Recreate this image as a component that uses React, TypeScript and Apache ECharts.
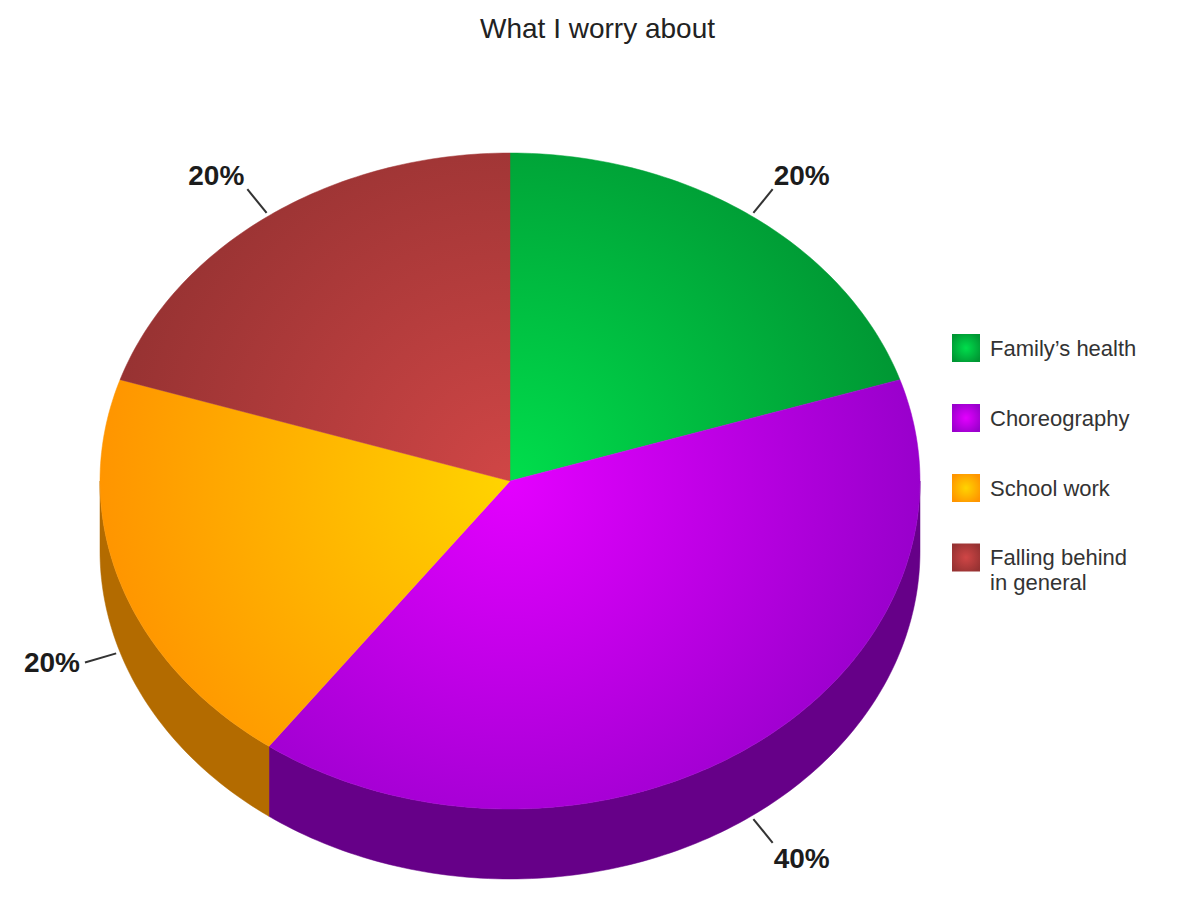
import React, { useEffect, useRef } from "react";
import * as echarts from "echarts";

const chartTitle = "What I worry about";
const categories = ["Family’s health", "Choreography", "School work", "Falling behind\nin general"];
const values = [20, 40, 20, 20];
const centerColors = ["#00DE4C", "#E400FF", "#FFD400", "#D04646"];
const edgeColors = ["#009633", "#9900CC", "#FF9500", "#963232"];
const sideColors = ["#006622", "#660088", "#B36B00", "#732626"];

const CX = 510;
const CY = 481;
const RX = 410;
const RY = 328;
const DEPTH = 70;
const RAD = Math.PI / 180;
const total = values.reduce((a, b) => a + b, 0);

function arc(from: number, to: number, rx: number, ry: number, dy = 0): number[][] {
  const pts: number[][] = [];
  const n = Math.max(2, Math.ceil(Math.abs(to - from)));
  for (let k = 0; k <= n; k++) {
    const a = (from + ((to - from) * k) / n) * RAD;
    pts.push([rx * Math.sin(a), -ry * Math.cos(a) + dy]);
  }
  return pts;
}

function renderSlice(i: number) {
  const before = values.slice(0, i).reduce((a, b) => a + b, 0);
  const start = (before / total) * 360;
  const end = ((before + values[i]) / total) * 360;
  const mid = (start + end) / 2;
  const children: any[] = [];

  const sideFrom = Math.max(start, 90);
  const sideTo = Math.min(end, 270);
  if (sideTo > sideFrom) {
    const upper = arc(sideFrom, sideTo, RX, RY);
    const lower = arc(sideTo, sideFrom, RX, RY, DEPTH);
    children.push({
      type: "polygon",
      x: CX,
      y: CY,
      shape: { points: upper.concat(lower) },
      style: { fill: sideColors[i], stroke: sideColors[i], lineWidth: 0.5 },
    });
  }

  const gradient = new echarts.graphic.RadialGradient(
    0,
    0,
    RX,
    [
      { offset: 0, color: centerColors[i] },
      { offset: 1, color: edgeColors[i] },
    ],
    true
  );
  children.push({
    type: "polygon",
    x: CX,
    y: CY,
    shape: { points: [[0, 0] as number[]].concat(arc(start, end, RX, RY)) },
    style: { fill: gradient, stroke: gradient, lineWidth: 0.5 },
  });

  const s = Math.sin(mid * RAD);
  const c = Math.cos(mid * RAD);
  const front = mid > 90 && mid < 270 ? DEPTH : 0;
  const x1 = CX + RX * 1.01 * s;
  const y1 = CY - RY * 1.01 * c + front;
  const x2 = CX + RX * 1.09 * s;
  const y2 = CY - RY * 1.1 * c + front;
  children.push({
    type: "line",
    shape: { x1, y1, x2, y2 },
    style: { stroke: "#333333", lineWidth: 2 },
  });

  const sideways = Math.abs(s) > 0.9;
  children.push({
    type: "text",
    x: sideways ? x2 - 5 : x2 + (s > 0 ? 1 : -3),
    y: sideways ? y2 : y2 + (c > 0 ? -14 : 16),
    style: {
      text: `${Math.round((values[i] / total) * 100)}%`,
      font: 'bold 28px "Liberation Sans", Arial, sans-serif',
      fill: "#1c1c1c",
      align: s > 0 ? "left" : "right",
      verticalAlign: "middle",
    },
  });

  return { type: "group", children };
}

const legendFont = {
  fontFamily: '"Liberation Sans", Arial, sans-serif',
  fontSize: 22,
  lineHeight: 25,
  color: "#333333",
  padding: [0, 0, 0, 5],
};

function legendEntry(i: number) {
  return {
    name: categories[i],
    icon: "rect",
    itemStyle: {
      color: new echarts.graphic.RadialGradient(0.5, 0.5, 0.6, [
        { offset: 0, color: centerColors[i] },
        { offset: 1, color: edgeColors[i] },
      ]),
    },
  };
}

export default function App() {
  const ref = useRef<HTMLDivElement>(null);

  useEffect(() => {
    const chart = echarts.init(ref.current!, undefined, { renderer: "svg" });
    const legendBase = {
      orient: "vertical",
      left: 952,
      padding: 0,
      itemWidth: 28,
      itemHeight: 28,
      itemGap: 42,
      selectedMode: false,
      icon: "rect",
      textStyle: legendFont,
    };
    chart.setOption({
      animation: false,
      backgroundColor: "#ffffff",
      title: {
        text: chartTitle,
        left: 592.5,
        top: 9,
        textAlign: "center",
        textStyle: {
          fontFamily: '"Liberation Sans", Arial, sans-serif',
          fontSize: 28,
          fontWeight: "normal",
          color: "#222222",
        },
      },
      legend: [
        {
          ...legendBase,
          top: 334,
          data: [0, 1, 2].map(legendEntry),
        },
        {
          ...legendBase,
          top: 520,
          // The leading blank line puts the first text line level with the swatch.
          formatter: (name: string) => `\n${name}`,
          data: [legendEntry(3)],
        },
      ],
      series: categories.map((name, i) => ({
        type: "custom",
        name,
        coordinateSystem: "none",
        silent: true,
        data: [values[i]],
        itemStyle: { color: edgeColors[i] },
        renderItem: () => renderSlice(i),
      })),
    });
    return () => chart.dispose();
  }, []);

  return <div ref={ref} style={{ position: "absolute", left: 0, top: 0, width: 1187, height: 901 }} />;
}
